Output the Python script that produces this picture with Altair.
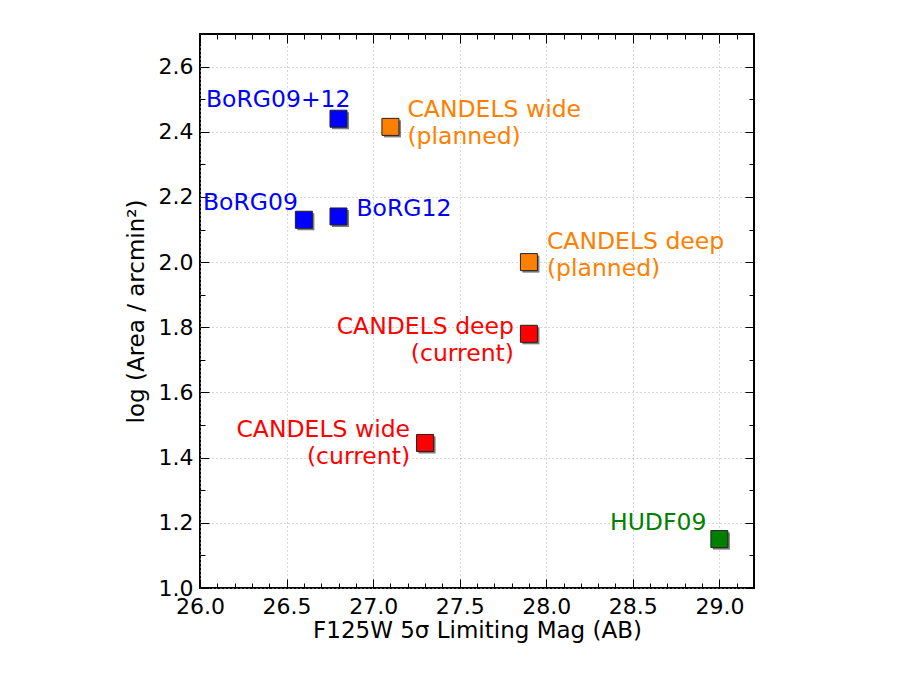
import altair as alt
import pandas as pd

# ---- data ----
labels = ["BoRG09+12", "BoRG09", "BoRG12",
          "CANDELS wide\n(planned)", "CANDELS deep\n(planned)",
          "CANDELS deep\n(current)", "CANDELS wide\n(current)", "HUDF09"]
mags = [26.8, 26.6, 26.8, 27.1, 27.9, 27.9, 27.3, 29.0]
areas = [2.44, 2.13, 2.14, 2.415, 2.0, 1.78, 1.445, 1.15]
groups = ["BoRG", "BoRG", "BoRG", "planned", "planned", "current", "current", "HUDF"]
group_names = ["BoRG", "planned", "current", "HUDF"]
group_colors = ["#0000ff", "#ff8000", "#ff0000", "#008000"]

x_major = [26.0, 26.5, 27.0, 27.5, 28.0, 28.5, 29.0]
x_minor = [round(26.0 + 0.1 * i, 1) for i in range(33)]
y_major = [1.0, 1.2, 1.4, 1.6, 1.8, 2.0, 2.2, 2.4, 2.6]
y_minor = [round(1.0 + 0.1 * i, 1) for i in range(18)]

df = pd.DataFrame({"i": list(range(len(labels))), "label": labels, "mag": mags,
                   "area": areas, "group": groups})

W = H = 554
FONT = "DejaVu Sans"
xs = alt.Scale(domain=[26.0, 29.2], nice=False, zero=False)
ys = alt.Scale(domain=[1.0, 2.7], nice=False, zero=False)
cs = alt.Scale(domain=group_names, range=group_colors)

base = alt.Chart(df)

x_tick_size = {"condition": {"test": "abs(datum.value*2 - round(datum.value*2)) < 0.001", "value": 9}, "value": 5}
y_tick_size = {"condition": {"test": "abs(datum.value*5 - round(datum.value*5)) < 0.001", "value": 9}, "value": 5}

common_lab = dict(labelFont=FONT, labelFontSize=22, labelColor="black", labelFlush=False,
                  titleFont=FONT, titleFontSize=23, titleFontWeight="normal", titleColor="black")

# main axes: labels, titles, dotted grid
axes_main = base.mark_point(opacity=0).encode(
    x=alt.X("mag:Q", scale=xs, axis=alt.Axis(
        orient="bottom", values=x_major, format=".1f", grid=True, gridColor="#b0b0b0",
        gridDash=[1, 3], gridWidth=1, ticks=False, domain=False, labelPadding=8,
        title="F125W 5σ Limiting Mag (AB)", titlePadding=2, **common_lab)),
    y=alt.Y("area:Q", scale=ys, axis=alt.Axis(
        orient="left", values=y_major, format=".1f", grid=True, gridColor="#b0b0b0",
        gridDash=[1, 3], gridWidth=1, ticks=False, domain=False, labelPadding=7,
        title="log (Area / arcmin²)", titlePadding=10, **common_lab)),
)

tick_common = dict(labels=False, grid=False, domain=False, ticks=True, tickColor="black",
                   tickWidth=1, title=None)

# inward ticks at bottom and left edges
axes_in1 = base.mark_point(opacity=0).encode(
    x=alt.X("mag:Q", scale=xs, axis=alt.Axis(orient="top", offset=-H, values=x_minor,
                                             tickSize=x_tick_size, **tick_common)),
    y=alt.Y("area:Q", scale=ys, axis=alt.Axis(orient="right", offset=-W, values=y_minor,
                                              tickSize=y_tick_size, **tick_common)),
)
# inward ticks at top and right edges
axes_in2 = base.mark_point(opacity=0).encode(
    x=alt.X("mag:Q", scale=xs, axis=alt.Axis(orient="bottom", offset=-H, values=x_minor,
                                             tickSize=x_tick_size, **tick_common)),
    y=alt.Y("area:Q", scale=ys, axis=alt.Axis(orient="left", offset=-W, values=y_minor,
                                              tickSize=y_tick_size, **tick_common)),
)

xe = alt.X("mag:Q", scale=xs, axis=None)
ye = alt.Y("area:Q", scale=ys, axis=None)

shadow = base.mark_square(size=290, filled=True, color="#444444", opacity=0.7,
                          xOffset=2, yOffset=2).encode(x=xe, y=ye)
squares = base.mark_square(size=290, filled=True, opacity=1, stroke="#222222",
                           strokeWidth=1).encode(
    x=xe, y=ye, color=alt.Color("group:N", scale=cs, legend=None))

# label placement (align, dx, dy) per point
placement = [("right", 12, -12), ("right", -6, -10), ("left", 18, 0),
             ("left", 17, -10), ("left", 18, -13), ("right", -15, 0),
             ("right", -15, -6), ("right", -13, -9)]

texts = []
for i, (al, dx, dy) in enumerate(placement):
    texts.append(base.transform_filter(alt.datum.i == i).mark_text(
        align=al, baseline="alphabetic", dx=dx, dy=dy, font=FONT, fontSize=23.5,
        lineBreak="\n", lineHeight=27).encode(
        x=xe, y=ye, text="label:N", color=alt.Color("group:N", scale=cs, legend=None)))

chart = alt.layer(axes_main, axes_in1, axes_in2, shadow, squares, *texts).resolve_axis(
    x="independent", y="independent"
).properties(
    width=W, height=H,
    padding={"left": 192, "top": 26, "right": 120, "bottom": 70},
    autosize=alt.AutoSizeParams(type="none"),
    background="white",
).configure_view(stroke="black", strokeWidth=2)

chart.save("out.html", embed_options={"renderer": "svg", "actions": False})
